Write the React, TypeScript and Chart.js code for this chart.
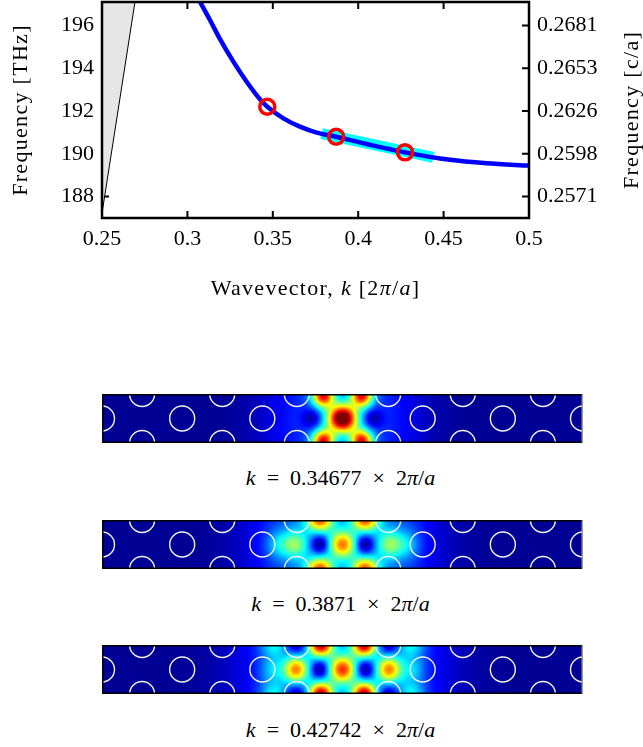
import React, { useEffect, useRef } from 'react';
import { Chart, registerables } from 'chart.js';

Chart.register(...registerables);

// ---------- dispersion diagram data ----------
const curveK = [0.305, 0.3074, 0.3132, 0.3191, 0.3269, 0.3347, 0.3425, 0.3468, 0.3562, 0.3659, 0.3757, 0.3871, 0.405, 0.4274, 0.4537, 0.4752, 0.5];
const curveF = [197.45, 197.1, 196.26, 195.36, 194.31, 193.37, 192.55, 192.2, 191.66, 191.27, 190.99, 190.8, 190.46, 190.07, 189.72, 189.56, 189.45];
const tangentK = [0.3786, 0.444];
const tangentF = [190.94, 189.83];
const modeK = [0.34677, 0.3871, 0.42742];
const modeF = [192.2, 190.8, 190.07];
const modeLabels = ['0.34677', '0.3871', '0.42742'];
const lightK = [0.25, 0.2693];
const lightF = [187.22, 197.1];

const xTickValues = [0.25, 0.3, 0.35, 0.4, 0.45, 0.5];
const xTickLabels = ['0.25', '0.3', '0.35', '0.4', '0.45', '0.5'];
const yTickValues = [188, 190, 192, 194, 196];
const yTickLabels = ['188', '190', '192', '194', '196'];
const yRightTickLabels = ['0.2571', '0.2598', '0.2626', '0.2653', '0.2681'];

// ---------- field maps (lattice units): hot spots (+) and dark minima (-) ----------
const holeMiddleX = [-3, -2, -1, 1, 2, 3];
const holeEdgeX = [-2.5, -1.5, -0.57, 0.57, 1.5, 2.5];
const holeRowY = [0.3, 0, -0.3];

const mode1SpotX = [0, -0.24, 0.24, -0.24, 0.24, -0.45, 0.45, -0.38, 0.38];
const mode1SpotY = [0, 0.28, 0.28, -0.28, -0.28, 0, 0, 0, 0];
const mode1SpotA = [0.95, 0.72, 0.72, 0.72, 0.72, 0.14, 0.14, -0.15, -0.15];
const mode1SpotSx = [0.13, 0.1, 0.1, 0.1, 0.1, 0.4, 0.4, 0.08, 0.08];
const mode1SpotSy = [0.12, 0.1, 0.1, 0.1, 0.1, 1.0, 1.0, 0.08, 0.08];

const mode2SpotX = [0, -0.28, 0.28, -0.28, 0.28, -0.6, 0.6, -0.83, 0.83, -0.55, 0.55, -0.28, 0.28];
const mode2SpotY = [0, 0.3, 0.3, -0.3, -0.3, 0, 0, 0, 0, 0, 0, 0, 0];
const mode2SpotA = [0.55, 0.58, 0.58, 0.58, 0.58, 0.3, 0.3, 0.12, 0.12, 0.2, 0.2, -0.25, -0.25];
const mode2SpotSx = [0.12, 0.12, 0.12, 0.12, 0.12, 0.12, 0.12, 0.1, 0.1, 0.45, 0.45, 0.08, 0.08];
const mode2SpotSy = [0.12, 0.1, 0.1, 0.1, 0.1, 0.12, 0.12, 0.12, 0.12, 1.0, 1.0, 0.08, 0.08];

const mode3SpotX = [0, -0.27, 0.27, -0.27, 0.27, -0.58, 0.58, -0.86, 0.86, -0.86, 0.86, -0.88, 0.88, -0.6, 0.6, -0.28, 0.28, -0.57, 0.57, -0.57, 0.57];
const mode3SpotY = [0, 0.3, 0.3, -0.3, -0.3, 0, 0, 0.3, 0.3, -0.3, -0.3, 0, 0, 0, 0, 0, 0, 0.3, 0.3, -0.3, -0.3];
const mode3SpotA = [0.62, 0.72, 0.72, 0.72, 0.72, 0.52, 0.52, 0.18, 0.18, 0.18, 0.18, 0.14, 0.14, 0.2, 0.2, -0.25, -0.25, -0.2, -0.2, -0.2, -0.2];
const mode3SpotSx = [0.12, 0.11, 0.11, 0.11, 0.11, 0.11, 0.11, 0.12, 0.12, 0.12, 0.12, 0.1, 0.1, 0.5, 0.5, 0.08, 0.08, 0.1, 0.1, 0.1, 0.1];
const mode3SpotSy = [0.12, 0.1, 0.1, 0.1, 0.1, 0.12, 0.12, 0.1, 0.1, 0.1, 0.1, 0.12, 0.12, 1.0, 1.0, 0.08, 0.08, 0.1, 0.1, 0.1, 0.1];

const FONT = "'Liberation Serif', 'Times New Roman', serif";

type Seg = { t: string; i?: boolean };

function drawRich(ctx: CanvasRenderingContext2D, segs: Seg[], cx: number, cy: number, size: number, spacing: number) {
  const fontOf = (s: Seg) => `${s.i ? 'italic ' : ''}${size}px ${FONT}`;
  (ctx as any).letterSpacing = `${spacing}px`;
  let total = 0;
  const widths = segs.map((s) => {
    ctx.font = fontOf(s);
    const w = ctx.measureText(s.t).width;
    total += w;
    return w;
  });
  let x = cx - total / 2;
  ctx.fillStyle = '#000';
  ctx.textBaseline = 'middle';
  ctx.textAlign = 'left';
  segs.forEach((s, i) => {
    ctx.font = fontOf(s);
    ctx.fillText(s.t, x, cy);
    x += widths[i];
  });
  (ctx as any).letterSpacing = '0px';
}

const framePlugin = {
  id: 'frameTicks',
  beforeDatasetsDraw(chart: any) {
    const { ctx, chartArea: a, scales } = chart;
    ctx.save();
    ctx.strokeStyle = '#000';
    ctx.lineWidth = 2;
    const L = 7;
    xTickValues.forEach((v) => {
      const px = scales.x.getPixelForValue(v);
      ctx.beginPath();
      ctx.moveTo(px, a.bottom);
      ctx.lineTo(px, a.bottom - L);
      ctx.moveTo(px, a.top);
      ctx.lineTo(px, a.top + L);
      ctx.stroke();
    });
    yTickValues.forEach((v) => {
      const py = scales.y.getPixelForValue(v);
      ctx.beginPath();
      ctx.moveTo(a.left, py);
      ctx.lineTo(a.left + L, py);
      ctx.moveTo(a.right, py);
      ctx.lineTo(a.right - L, py);
      ctx.stroke();
    });
    ctx.restore();
  },
  afterDatasetsDraw(chart: any) {
    const { ctx, chartArea: a } = chart;
    ctx.save();
    ctx.strokeStyle = '#000';
    ctx.lineWidth = 2.5;
    ctx.strokeRect(a.left, a.top, a.right - a.left, a.bottom - a.top);
    ctx.restore();
  },
  afterDraw(chart: any) {
    const { ctx, chartArea: a } = chart;
    const cy = (a.top + a.bottom) / 2;
    ctx.save();
    drawRich(ctx, [{ t: 'Wavevector, ' }, { t: 'k', i: true }, { t: ' [2' }, { t: 'π', i: true }, { t: '/' }, { t: 'a', i: true }, { t: ']' }], (a.left + a.right) / 2, 289, 22, 1.3);
    ctx.save();
    ctx.translate(21, cy);
    ctx.rotate(-Math.PI / 2);
    drawRich(ctx, [{ t: 'Frequency [THz]' }], 0, 0, 22, 1.3);
    ctx.restore();
    ctx.save();
    ctx.translate(632, cy);
    ctx.rotate(-Math.PI / 2);
    drawRich(ctx, [{ t: 'Frequency [c/a]' }], 0, 0, 22, 1.3);
    ctx.restore();
    ctx.restore();
  },
};

function DispersionChart() {
  const ref = useRef<HTMLCanvasElement>(null);
  useEffect(() => {
    const tickFont = { family: FONT, size: 22 };
    const chart = new Chart(ref.current as HTMLCanvasElement, {
      type: 'line',
      data: {
        datasets: [
          {
            label: 'modes',
            data: modeK.map((k, i) => ({ x: k, y: modeF[i] })),
            showLine: false,
            pointRadius: 7.5,
            pointBorderWidth: 3.5,
            pointBorderColor: '#ff0000',
            pointBackgroundColor: 'rgba(0,0,0,0)',
            order: 0,
          } as any,
          {
            label: 'band',
            data: curveK.map((k, i) => ({ x: k, y: curveF[i] })),
            borderColor: '#0000ff',
            borderWidth: 4.5,
            pointRadius: 0,
            cubicInterpolationMode: 'monotone',
            fill: false,
            order: 1,
          },
          {
            label: 'tangent',
            data: tangentK.map((k, i) => ({ x: k, y: tangentF[i] })),
            borderColor: '#00ffff',
            borderWidth: 11,
            borderCapStyle: 'butt',
            pointRadius: 0,
            fill: false,
            order: 2,
          },
          {
            label: 'light',
            data: lightK.map((k, i) => ({ x: k, y: lightF[i] })),
            borderColor: '#000000',
            borderWidth: 1,
            backgroundColor: '#e6e6e6',
            fill: 'end',
            pointRadius: 0,
            order: 3,
          },
        ],
      },
      options: {
        responsive: false,
        animation: false,
        devicePixelRatio: 1,
        layout: { autoPadding: false, padding: { top: 2, left: 0, right: 0, bottom: 0 } },
        plugins: { legend: { display: false }, tooltip: { enabled: false } },
        scales: {
          x: {
            type: 'linear',
            min: 0.25,
            max: 0.5,
            position: 'bottom',
            grid: { display: false, drawTicks: false },
            border: { display: false },
            ticks: { padding: 8, font: tickFont, color: '#000', maxRotation: 0, callback: (_v: any, i: number) => xTickLabels[i] },
            afterBuildTicks: (s: any) => { s.ticks = xTickValues.map((v) => ({ value: v })); },
            afterFit: (s: any) => { s.height = 82; s.paddingLeft = 0; s.paddingRight = 0; },
          },
          y: {
            type: 'linear',
            min: 187,
            max: 197.1,
            position: 'left',
            grid: { display: false, drawTicks: false },
            border: { display: false },
            ticks: { padding: 8, font: tickFont, color: '#000', callback: (_v: any, i: number) => yTickLabels[i] },
            afterBuildTicks: (s: any) => { s.ticks = yTickValues.map((v) => ({ value: v })); },
            afterFit: (s: any) => { s.width = 102; s.paddingTop = 0; s.paddingBottom = 0; },
          },
          y2: {
            type: 'linear',
            min: 187,
            max: 197.1,
            position: 'right',
            grid: { display: false, drawTicks: false },
            border: { display: false },
            ticks: { padding: 8, font: tickFont, color: '#000', callback: (_v: any, i: number) => yRightTickLabels[i] },
            afterBuildTicks: (s: any) => { s.ticks = yTickValues.map((v) => ({ value: v })); },
            afterFit: (s: any) => { s.width = 114; s.paddingTop = 0; s.paddingBottom = 0; },
          },
        },
      } as any,
      plugins: [framePlugin],
    });
    return () => chart.destroy();
  }, []);
  return <canvas ref={ref} width={643} height={300} style={{ position: 'absolute', left: 0, top: 0 }} />;
}

const clamp01 = (v: number) => Math.max(0, Math.min(1, v));
function jet(v: number): [number, number, number] {
  return [clamp01(1.5 - Math.abs(4 * v - 3)), clamp01(1.5 - Math.abs(4 * v - 2)), clamp01(1.5 - Math.abs(4 * v - 1))];
}

function makeFieldPlugin(sx: number[], sy: number[], sa: number[], swx: number[], swy: number[]) {
  return {
    id: 'fieldMap',
    beforeDatasetsDraw(chart: any) {
      const { ctx, chartArea: a, scales } = chart;
      const w = Math.round(a.right - a.left);
      const h = Math.round(a.bottom - a.top);
      const img = ctx.createImageData(w, h);
      for (let py = 0; py < h; py++) {
        const yv = scales.y.getValueForPixel(a.top + py + 0.5);
        for (let px = 0; px < w; px++) {
          const xv = scales.x.getValueForPixel(a.left + px + 0.5);
          let v = 0.02;
          for (let i = 0; i < sx.length; i++) {
            const dx = (xv - sx[i]) / swx[i];
            const dy = (yv - sy[i]) / swy[i];
            v += sa[i] * Math.exp(-0.5 * (dx * dx + dy * dy));
          }
          const [r, g, b] = jet(clamp01(v));
          const o = (py * w + px) * 4;
          img.data[o] = r * 255;
          img.data[o + 1] = g * 255;
          img.data[o + 2] = b * 255;
          img.data[o + 3] = 255;
        }
      }
      ctx.putImageData(img, a.left, a.top);
    },
    afterDatasetsDraw(chart: any) {
      const { ctx, chartArea: a } = chart;
      ctx.save();
      ctx.strokeStyle = '#9a9a9a';
      ctx.lineWidth = 1.5;
      ctx.beginPath();
      ctx.moveTo(a.right - 0.75, a.top);
      ctx.lineTo(a.right - 0.75, a.bottom);
      ctx.stroke();
      ctx.strokeStyle = '#000';
      ctx.lineWidth = 1.5;
      ctx.beginPath();
      ctx.moveTo(a.right - 1.5, a.top + 0.75);
      ctx.lineTo(a.left + 0.75, a.top + 0.75);
      ctx.lineTo(a.left + 0.75, a.bottom - 0.75);
      ctx.lineTo(a.right - 1.5, a.bottom - 0.75);
      ctx.stroke();
      ctx.restore();
    },
  };
}

function FieldMap(props: { top: number; sx: number[]; sy: number[]; sa: number[]; swx: number[]; swy: number[] }) {
  const ref = useRef<HTMLCanvasElement>(null);
  useEffect(() => {
    const holeStyle = {
      showLine: false,
      pointRadius: 12.5,
      pointBorderWidth: 1.4,
      pointBorderColor: '#f2f2f2',
      pointBackgroundColor: 'rgba(0,0,0,0)',
      clip: 0,
    };
    const chart = new Chart(ref.current as HTMLCanvasElement, {
      type: 'scatter',
      data: {
        datasets: [
          { label: 'top holes', data: holeEdgeX.map((x) => ({ x, y: holeRowY[0] })), ...holeStyle },
          { label: 'middle holes', data: holeMiddleX.map((x) => ({ x, y: holeRowY[1] })), ...holeStyle },
          { label: 'bottom holes', data: holeEdgeX.map((x) => ({ x, y: holeRowY[2] })), ...holeStyle },
        ] as any,
      },
      options: {
        responsive: false,
        animation: false,
        devicePixelRatio: 1,
        layout: { autoPadding: false, padding: 0 },
        plugins: { legend: { display: false }, tooltip: { enabled: false } },
        scales: {
          x: { type: 'linear', min: -3, max: 3, display: false },
          y: { type: 'linear', min: -0.3, max: 0.3, display: false },
        },
      } as any,
      plugins: [makeFieldPlugin(props.sx, props.sy, props.sa, props.swx, props.swy)],
    });
    return () => chart.destroy();
  }, []);
  return <canvas ref={ref} width={481} height={49} style={{ position: 'absolute', left: 102, top: props.top }} />;
}

function ModeLabel(props: { top: number; value: string }) {
  const gap = { margin: '0 0.5em' };
  return (
    <div
      style={{
        position: 'absolute',
        left: 100,
        width: 481,
        top: props.top,
        height: 26,
        lineHeight: '26px',
        textAlign: 'center',
        fontFamily: FONT,
        fontSize: 22,
        color: '#000',
        whiteSpace: 'nowrap',
      }}
    >
      <i>k</i>
      <span style={gap}>=</span>
      {props.value}
      <span style={gap}>×</span>2<i>π</i>/<i>a</i>
    </div>
  );
}

export default function App() {
  return (
    <div style={{ position: 'absolute', left: 0, top: 0, width: 643, height: 747, background: '#fff', overflow: 'hidden' }}>
      <DispersionChart />
      <FieldMap top={394} sx={mode1SpotX} sy={mode1SpotY} sa={mode1SpotA} swx={mode1SpotSx} swy={mode1SpotSy} />
      <FieldMap top={520} sx={mode2SpotX} sy={mode2SpotY} sa={mode2SpotA} swx={mode2SpotSx} swy={mode2SpotSy} />
      <FieldMap top={645} sx={mode3SpotX} sy={mode3SpotY} sa={mode3SpotA} swx={mode3SpotSx} swy={mode3SpotSy} />
      <ModeLabel top={465} value={modeLabels[0]} />
      <ModeLabel top={591} value={modeLabels[1]} />
      <ModeLabel top={717} value={modeLabels[2]} />
    </div>
  );
}
